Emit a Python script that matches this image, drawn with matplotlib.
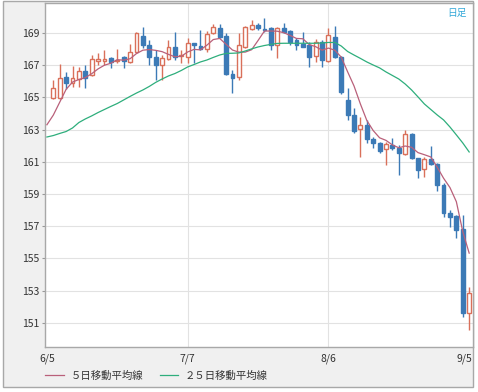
import numpy as np
import matplotlib
matplotlib.use('Agg')
from matplotlib import pyplot as plt
from matplotlib.patches import Rectangle
from matplotlib.lines import Line2D

plt.rcParams['font.family'] = ['Noto Sans CJK JP', 'DejaVu Sans']

# daily candles (open, high, low, close)
opens = [164.96, 164.96, 166.27, 165.90, 166.14, 166.64, 166.39, 167.26, 167.26, 167.45,
         167.26, 167.51, 167.20, 167.82, 168.81, 168.25, 167.51, 167.01, 167.39, 168.13,
         167.57, 167.51, 168.38, 168.19, 168.00, 169.00, 169.31, 168.81, 166.45, 166.27,
         168.13, 169.25, 169.50, 169.25, 169.31, 168.25, 169.31, 169.12, 168.57, 168.32,
         168.25, 167.57, 168.44, 167.26, 168.75, 167.51, 164.84, 163.91, 163.04, 163.29,
         162.42, 162.17, 161.80, 162.05, 161.86, 161.49, 162.73, 161.24, 160.55, 161.18,
         160.86, 159.56, 157.82, 157.63, 156.83, 151.61]
highs = [166.08, 167.07, 166.58, 166.95, 166.89, 167.01, 167.63, 167.76, 167.94, 167.50,
         168.00, 167.57, 168.32, 169.06, 169.37, 168.57, 167.94, 167.63, 168.57, 169.06,
         167.94, 168.69, 168.40, 169.19, 169.12, 169.56, 169.56, 169.00, 166.70, 169.00,
         169.43, 169.81, 169.62, 169.93, 169.37, 169.37, 169.62, 169.19, 168.69, 169.06,
         168.44, 168.63, 168.57, 169.31, 169.43, 167.57, 165.58, 164.34, 163.78, 163.60,
         162.54, 162.23, 162.23, 162.48, 162.05, 162.98, 162.79, 161.24, 161.30, 161.98,
         160.92, 159.68, 158.01, 157.70, 157.70, 153.23]
lows = [164.90, 164.90, 165.52, 165.65, 165.65, 165.58, 166.33, 167.01, 167.01, 166.83,
        167.14, 166.83, 167.14, 167.76, 168.07, 167.01, 166.08, 166.08, 167.32, 167.32,
        167.14, 167.14, 167.14, 167.94, 167.82, 168.94, 168.69, 166.39, 165.27, 166.08,
        168.07, 169.19, 169.19, 169.06, 167.94, 167.45, 169.00, 168.25, 167.94, 168.13,
        166.89, 167.20, 166.89, 167.20, 167.45, 165.21, 163.60, 162.79, 161.30, 162.17,
        161.86, 161.55, 160.80, 161.73, 160.18, 161.43, 161.18, 160.00, 160.06, 160.80,
        159.19, 157.57, 156.95, 156.27, 151.36, 150.56]
closes = [165.58, 166.21, 165.90, 166.21, 166.64, 166.21, 167.39, 167.39, 167.39, 167.20,
          167.32, 167.26, 167.82, 169.00, 168.25, 167.51, 167.01, 167.45, 168.13, 167.51,
          167.63, 168.38, 168.25, 168.00, 168.94, 169.37, 168.75, 166.45, 166.21, 168.25,
          169.37, 169.50, 169.31, 169.19, 168.25, 169.31, 169.06, 168.44, 168.25, 168.13,
          167.51, 168.44, 167.32, 168.88, 167.51, 165.34, 163.91, 162.91, 163.29, 162.42,
          162.17, 161.67, 162.11, 161.86, 161.55, 162.73, 161.24, 160.49, 161.18, 160.86,
          159.56, 157.82, 157.57, 156.77, 151.61, 152.86]

# moving averages, starting one session before the first drawn candle
ma5 = [163.30, 163.90, 164.70, 165.50, 165.95, 166.11, 166.23, 166.47, 166.77, 167.00,
       167.12, 167.34, 167.31, 167.40, 167.72, 167.93, 167.97, 167.92, 167.84, 167.67,
       167.52, 167.55, 167.82, 167.98, 167.95, 168.24, 168.59, 168.66, 168.30, 167.94,
       167.81, 167.81, 167.96, 168.53, 169.12, 169.12, 169.11, 169.02, 168.85, 168.66,
       168.64, 168.28, 168.15, 167.93, 168.06, 167.93, 167.50, 166.59, 165.71, 164.59,
       163.57, 162.94, 162.49, 162.33, 162.05, 161.87, 161.98, 161.90, 161.57, 161.44,
       161.30, 160.67, 159.98, 159.40, 158.52, 156.67, 155.33]
ma25 = [162.54, 162.63, 162.76, 162.88, 163.10, 163.44, 163.66, 163.85, 164.06, 164.25,
        164.44, 164.62, 164.84, 165.06, 165.27, 165.46, 165.68, 165.93, 166.14, 166.33,
        166.48, 166.67, 166.89, 167.04, 167.20, 167.32, 167.48, 167.63, 167.73, 167.74,
        167.76, 167.88, 168.01, 168.13, 168.22, 168.29, 168.35, 168.36, 168.36, 168.36,
        168.36, 168.36, 168.36, 168.38, 168.41, 168.41, 168.19, 167.85, 167.63, 167.42,
        167.20, 167.01, 166.83, 166.58, 166.36, 166.14, 165.83, 165.46, 165.03, 164.59,
        164.25, 163.91, 163.60, 163.16, 162.67, 162.17, 161.61]

date_labels = ['6/5', '7/7', '8/6', '9/5']
date_pos = [-1, 21, 43, 65]
y_ticks = list(range(151, 170, 2))

up_col = '#d9705a'
down_col = '#3c7ab6'
ma5_col = '#b9607a'
ma25_col = '#2eae7c'

fig = plt.figure(figsize=(4.78, 3.92), dpi=100)
fig.patch.set_facecolor('white')
# grey outer frame, kept behind the axes
frame = Rectangle((3.3 / 478, 5 / 392), 470 / 478, 386 / 392,
                  transform=fig.transFigure, facecolor='#f0f0f0',
                  edgecolor='#a8a8a8', linewidth=1, zorder=-10)
fig.patches.append(frame)

ax = fig.add_axes([45 / 478, 45 / 392, 428 / 478, 344 / 392])
ax.set_zorder(1)
ax.set_facecolor('white')

o = np.array(opens)
h = np.array(highs)
l = np.array(lows)
c = np.array(closes)
xi = np.arange(len(c))
up = c >= o

ax.vlines(xi[up], l[up], h[up], color=up_col, linewidth=1, zorder=2)
ax.vlines(xi[~up], l[~up], h[~up], color=down_col, linewidth=1, zorder=2)
ax.bar(xi[up], np.maximum(c[up] - o[up], 0.03), bottom=o[up], width=0.6,
       facecolor='white', edgecolor=up_col, linewidth=1, zorder=3)
ax.bar(xi[~up], np.maximum(o[~up] - c[~up], 0.03), bottom=c[~up], width=0.6,
       facecolor=down_col, edgecolor=down_col, linewidth=1, zorder=3)

xm = np.arange(-1, len(ma5) - 1)
ax.plot(xm, ma5, color=ma5_col, linewidth=0.9, zorder=4)
ax.plot(xm, ma25, color=ma25_col, linewidth=0.9, zorder=4)

ax.set_xlim(-1.3, 65.6)
ax.set_ylim(149.5, 170.86)
ax.set_yticks(y_ticks)
ax.yaxis.grid(True, color='#e2e2e2', linewidth=0.8, zorder=0)
for p in date_pos[1:3]:
    ax.axvline(p, color='#e2e2e2', linewidth=0.8, zorder=0)
ax.set_axisbelow(True)

ax.set_xticks([-0.9, 21, 43, 64.3])
ax.set_xticklabels(date_labels)
ax.tick_params(axis='x', length=0, pad=5, labelsize=7.5, labelcolor='#333333')
ax.tick_params(axis='y', length=2, pad=2, labelsize=7.5, labelcolor='#333333', color='#999999')
for s in ax.spines.values():
    s.set_color('#a8a8a8')
    s.set_linewidth(1)

ax.text(0.985, 0.985, '日足', transform=ax.transAxes, ha='right', va='top',
        fontsize=7, color='#33a8d8')

handles = [Line2D([], [], color=ma5_col, linewidth=0.9),
           Line2D([], [], color=ma25_col, linewidth=0.9)]
fig.legend(handles, ['５日移動平均線', '２５日移動平均線'], ncol=2, frameon=False,
           loc='center left', bbox_to_anchor=(36 / 478, 16 / 392), fontsize=7.5,
           handlelength=1.75, handletextpad=0.65, columnspacing=1.6,
           labelcolor='#333333')

fig.savefig('out.png', dpi=100)
